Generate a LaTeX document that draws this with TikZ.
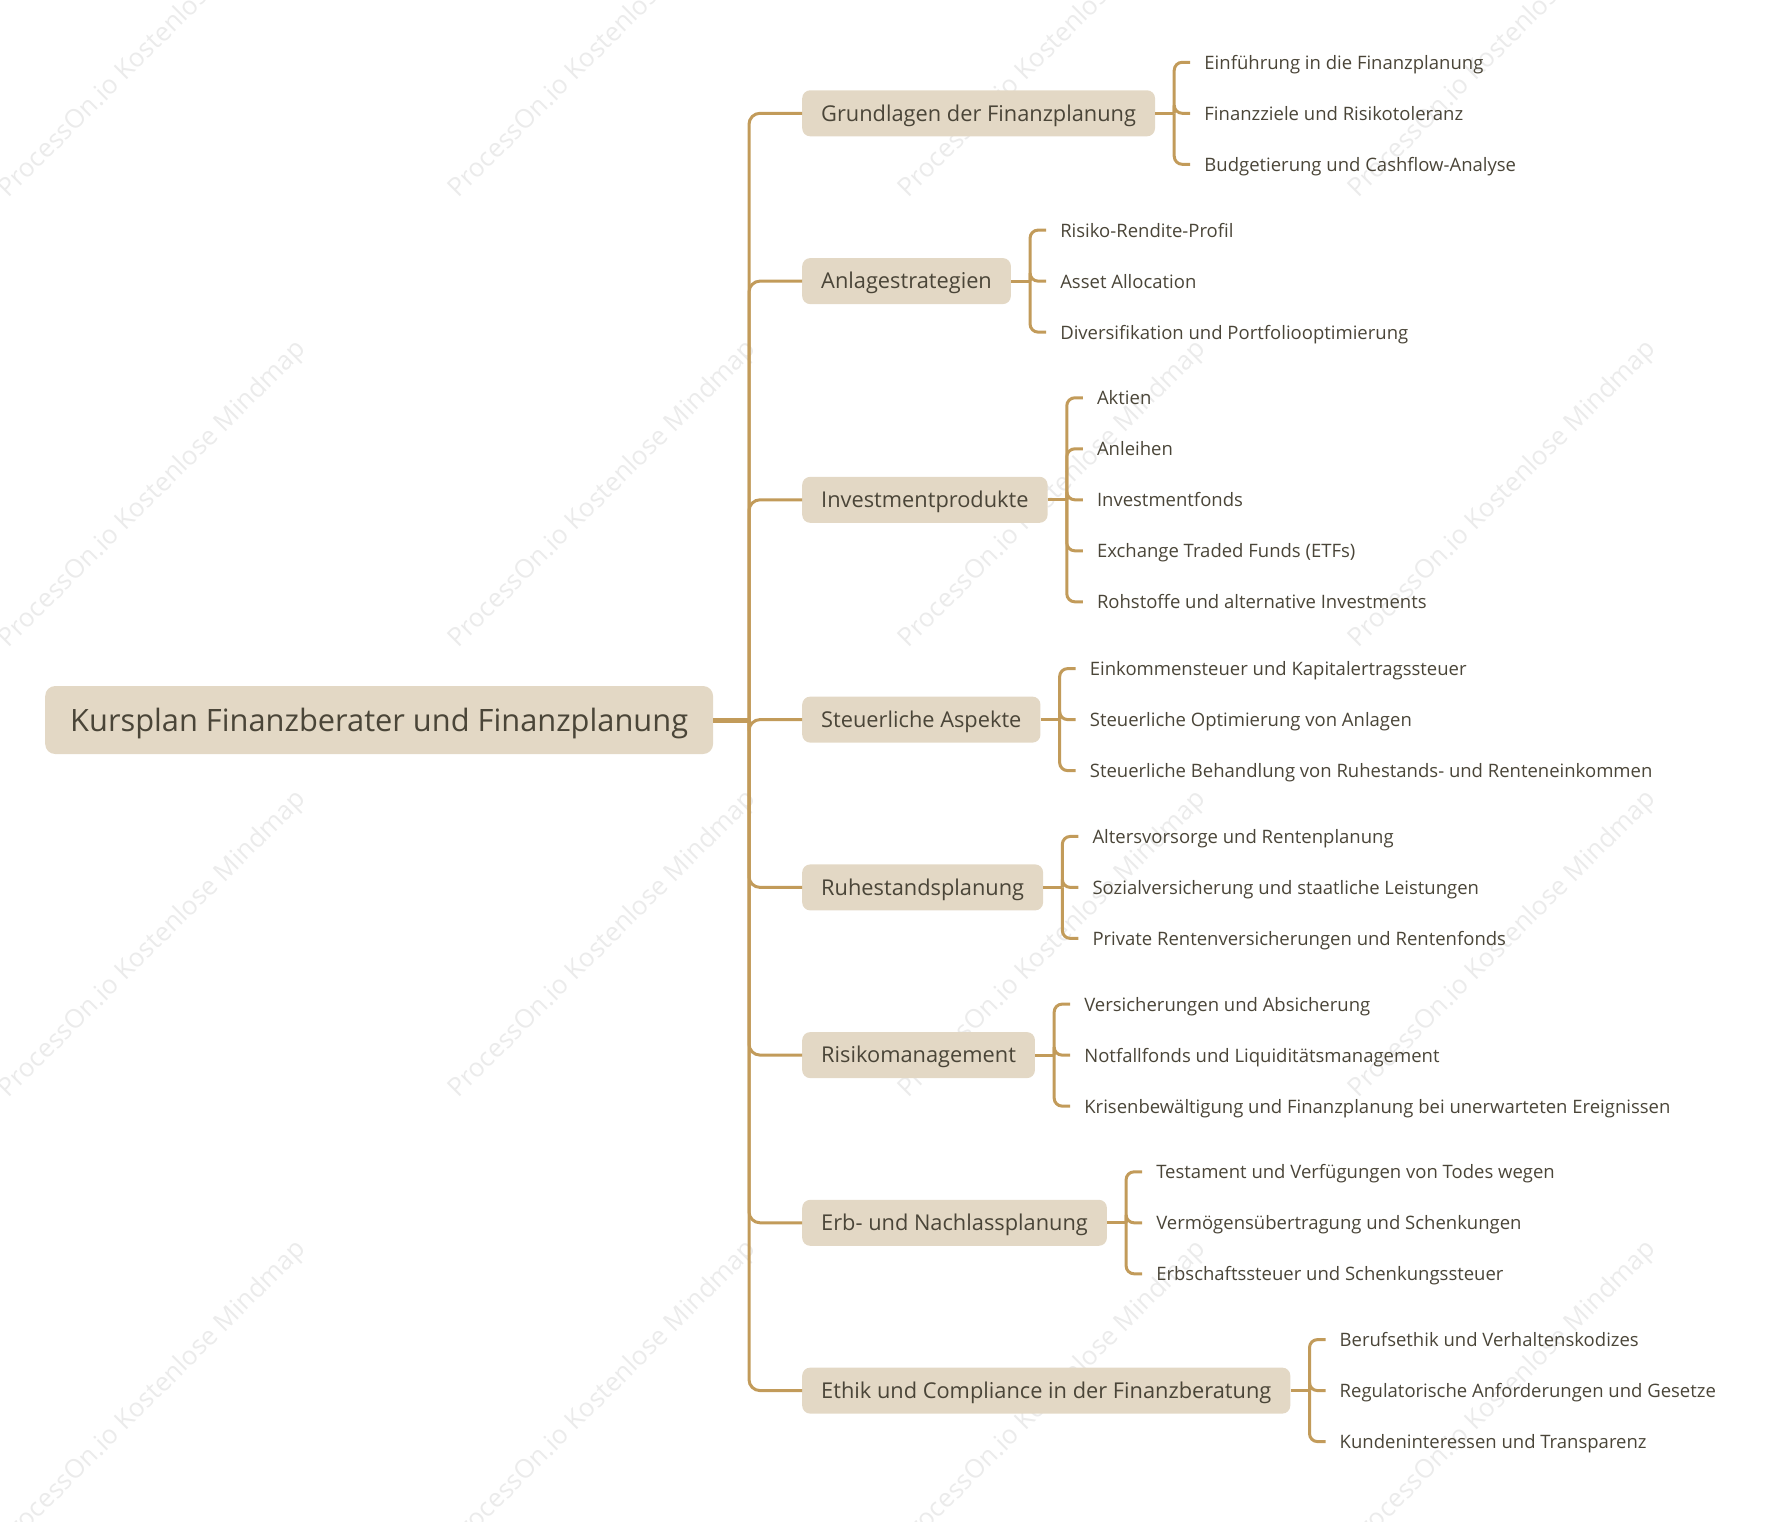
\documentclass[tikz,border=0pt]{standalone}
\usepackage{fontspec}
\setmainfont{Open Sans}
\definecolor{boxfill}{HTML}{E3D8C5}
\definecolor{linec}{HTML}{C29B5A}
\definecolor{txt}{HTML}{4A4538}
\definecolor{wm}{HTML}{EBEBEB}
\begin{document}
\begin{tikzpicture}[x=1pt,y=-1pt,
 rootbox/.style={fill=boxfill, rounded corners=10pt, text=txt, font=\fontsize{30.8}{34}\selectfont, minimum height=68pt, inner xsep=25pt, inner ysep=0pt, text height=22pt, text depth=0pt, anchor=west},
 topic/.style={fill=boxfill, rounded corners=8pt, text=txt, font=\fontsize{21.8}{25}\selectfont, minimum height=46pt, inner xsep=19pt, inner ysep=0pt, text height=15.5pt, text depth=0pt, anchor=west},
 leaf/.style={text=txt, font=\fontsize{18.5}{22}\selectfont, inner sep=0pt, text height=14pt, text depth=0pt, anchor=west},
 conn/.style={draw=linec, line width=3pt, rounded corners=11pt},
 brk/.style={draw=linec, line width=3pt, rounded corners=8pt},
 wmark/.style={text=wm, font=\fontsize{26}{30}\selectfont, rotate=45}]
\useasboundingbox (0,0) rectangle (1777,1521);
\begin{scope}
\clip (0,0) rectangle (1777,1521);
\foreach \i in {0,1,2,3}{
 \foreach \j in {0,1,2,3}{
  \node[wmark] (wm\i\j) at (153+450*\i,45+450*\j) {ProcessOn.io Kostenlose Mindmap};
 }}
\end{scope}

\node[rootbox] (root) at (45,720) {Kursplan Finanzberater und Finanzplanung};
\coordinate (tr) at (749,720);

\node[topic] (g1) at (802,113.3) {Grundlagen der Finanzplanung};
\node[topic] (g2) at (802,281.1) {Anlagestrategien};
\node[topic] (g3) at (802,499.8) {Investmentprodukte};
\node[topic] (g4) at (802,719.6) {Steuerliche Aspekte};
\node[topic] (g5) at (802,887.4) {Ruhestandsplanung};
\node[topic] (g6) at (802,1055.1) {Risikomanagement};
\node[topic] (g7) at (802,1222.8) {Erb- und Nachlassplanung};
\node[topic] (g8) at (802,1390.6) {Ethik und Compliance in der Finanzberatung};

\draw[draw=linec, line width=5pt] (root.east) -- (tr);
\foreach \g in {g1,g2,g3,g4,g5,g6,g7,g8}{
 \draw[conn] (tr) |- (\g.west);
}

% brackets
\foreach \g in {1,...,8}{
 \coordinate (b\g) at ([xshift=19pt]g\g.east);
 \draw[draw=linec, line width=3pt] (g\g.east) -- (b\g);
}

\node[leaf] (c11) at ([xshift=30pt,yshift=51pt]b1) {Einführung in die Finanzplanung};
\node[leaf] (c12) at ([xshift=30pt]b1) {Finanzziele und Risikotoleranz};
\node[leaf] (c13) at ([xshift=30pt,yshift=-51pt]b1) {Budgetierung und Cashflow-Analyse};

\node[leaf] (c21) at ([xshift=30pt,yshift=51pt]b2) {Risiko-Rendite-Profil};
\node[leaf] (c22) at ([xshift=30pt]b2) {Asset Allocation};
\node[leaf] (c23) at ([xshift=30pt,yshift=-51pt]b2) {Diversifikation und Portfoliooptimierung};

\node[leaf] (c31) at ([xshift=30pt,yshift=102pt]b3) {Aktien};
\node[leaf] (c32) at ([xshift=30pt,yshift=51pt]b3) {Anleihen};
\node[leaf] (c33) at ([xshift=30pt]b3) {Investmentfonds};
\node[leaf] (c34) at ([xshift=30pt,yshift=-51pt]b3) {Exchange Traded Funds (ETFs)};
\node[leaf] (c35) at ([xshift=30pt,yshift=-102pt]b3) {Rohstoffe und alternative Investments};

\node[leaf] (c41) at ([xshift=30pt,yshift=51pt]b4) {Einkommensteuer und Kapitalertragssteuer};
\node[leaf] (c42) at ([xshift=30pt]b4) {Steuerliche Optimierung von Anlagen};
\node[leaf] (c43) at ([xshift=30pt,yshift=-51pt]b4) {Steuerliche Behandlung von Ruhestands- und Renteneinkommen};

\node[leaf] (c51) at ([xshift=30pt,yshift=51pt]b5) {Altersvorsorge und Rentenplanung};
\node[leaf] (c52) at ([xshift=30pt]b5) {Sozialversicherung und staatliche Leistungen};
\node[leaf] (c53) at ([xshift=30pt,yshift=-51pt]b5) {Private Rentenversicherungen und Rentenfonds};

\node[leaf] (c61) at ([xshift=30pt,yshift=51pt]b6) {Versicherungen und Absicherung};
\node[leaf] (c62) at ([xshift=30pt]b6) {Notfallfonds und Liquiditätsmanagement};
\node[leaf] (c63) at ([xshift=30pt,yshift=-51pt]b6) {Krisenbewältigung und Finanzplanung bei unerwarteten Ereignissen};

\node[leaf] (c71) at ([xshift=30pt,yshift=51pt]b7) {Testament und Verfügungen von Todes wegen};
\node[leaf] (c72) at ([xshift=30pt]b7) {Vermögensübertragung und Schenkungen};
\node[leaf] (c73) at ([xshift=30pt,yshift=-51pt]b7) {Erbschaftssteuer und Schenkungssteuer};

\node[leaf] (c81) at ([xshift=30pt,yshift=51pt]b8) {Berufsethik und Verhaltenskodizes};
\node[leaf] (c82) at ([xshift=30pt]b8) {Regulatorische Anforderungen und Gesetze};
\node[leaf] (c83) at ([xshift=30pt,yshift=-51pt]b8) {Kundeninteressen und Transparenz};

\foreach \g/\n in {1/3,2/3,3/5,4/3,5/3,6/3,7/3,8/3}{
 \foreach \k in {1,...,\n}{
  \draw[brk] (b\g) |- ([xshift=-14pt]c\g\k.west);
 }}
\end{tikzpicture}
\end{document}
